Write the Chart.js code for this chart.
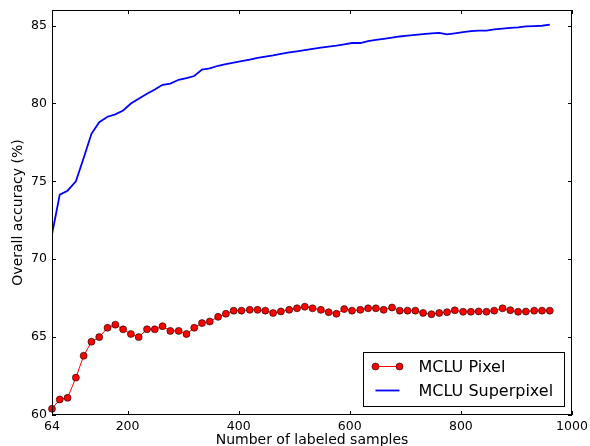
<!DOCTYPE html>
<html>
<head>
<meta charset="utf-8">
<script src="https://cdn.jsdelivr.net/npm/chart.js@4/dist/chart.umd.min.js"></script>
<style>
  html, body { margin: 0; padding: 0; background: #fff; }
  #wrap { width: 590px; height: 446px; }
</style>
</head>
<body>
<div id="wrap"><canvas id="chart" width="590" height="446"></canvas></div>
<script>
// number of labeled samples for each AL iteration
const samples = [64, 78, 92, 107, 121, 135, 149, 164, 178, 192, 206, 220, 235, 249, 263, 277,
  292, 306, 320, 334, 348, 363, 377, 391, 405, 420, 434, 448, 462, 476, 491, 505,
  519, 533, 548, 562, 576, 590, 604, 619, 633, 647, 661, 676, 690, 704, 718, 732,
  747, 761, 775, 789, 804, 818, 832, 846, 860, 875, 889, 903, 917, 932, 946, 960];

const pixelAcc = [60.4, 61.0, 61.1, 62.4, 63.8, 64.7, 65.0, 65.6, 65.8, 65.5, 65.2, 65.0, 65.5, 65.5, 65.7, 65.4,
  65.4, 65.2, 65.6, 65.9, 66.0, 66.3, 66.5, 66.7, 66.7, 66.75, 66.75, 66.7, 66.55, 66.65, 66.75, 66.85,
  66.95, 66.85, 66.75, 66.6, 66.5, 66.8, 66.7, 66.75, 66.85, 66.85, 66.75, 66.9, 66.7, 66.7, 66.7, 66.55,
  66.47, 66.55, 66.6, 66.72, 66.63, 66.63, 66.65, 66.63, 66.7, 66.85, 66.73, 66.63, 66.64, 66.7, 66.7, 66.7];

const superpixelAcc = [71.6, 74.15, 74.4, 75.0, 76.5, 78.05, 78.8, 79.15, 79.3, 79.55, 80.0, 80.3, 80.62, 80.9, 81.2, 81.28,
  81.52, 81.62, 81.76, 82.18, 82.25, 82.42, 82.52, 82.62, 82.72, 82.82, 82.92, 83.0, 83.08, 83.18, 83.28, 83.35,
  83.43, 83.5, 83.58, 83.65, 83.71, 83.8, 83.88, 83.88, 84.0, 84.08, 84.15, 84.23, 84.3, 84.35, 84.4, 84.45,
  84.5, 84.53, 84.43, 84.5, 84.58, 84.64, 84.68, 84.68, 84.75, 84.8, 84.85, 84.89, 84.95, 84.97, 84.99, 85.06];

const xTicks = [64, 200, 400, 600, 800, 1000];
const yTicks = [60, 65, 70, 75, 80, 85];
const seriesNames = ['MCLU Pixel', 'MCLU Superpixel'];

const FONT = "'DejaVu Sans', sans-serif";

// matplotlib style box with inward ticks on all four sides
const frameTicks = {
    id: 'frameTicks',
    afterDatasetsDraw(chart) {
        const { ctx, chartArea: a, scales: { x, y } } = chart;
        ctx.save();
        ctx.strokeStyle = '#000';
        ctx.lineWidth = 1;
        ctx.beginPath();
        xTicks.forEach(v => {
            const px = Math.round(x.getPixelForValue(v)) + 0.5;
            ctx.moveTo(px, a.bottom); ctx.lineTo(px, a.bottom - 4);
            ctx.moveTo(px, a.top); ctx.lineTo(px, a.top + 4);
        });
        yTicks.forEach(v => {
            const py = Math.round(y.getPixelForValue(v)) + 0.5;
            ctx.moveTo(a.left, py); ctx.lineTo(a.left + 4, py);
            ctx.moveTo(a.right, py); ctx.lineTo(a.right - 4, py);
        });
        ctx.stroke();
        ctx.strokeRect(Math.round(a.left) + 0.5, Math.round(a.top) + 0.5,
            Math.round(a.width) - 1, Math.round(a.height) - 1);
        ctx.restore();
    }
};

// legend inside the lower right corner
const boxLegend = {
    id: 'boxLegend',
    afterDraw(chart) {
        const { ctx, chartArea: a } = chart;
        const w = 201, h = 54;
        const bx = Math.round(a.right - 8 - w) + 0.5;
        const by = Math.round(a.bottom - 9 - h) + 0.5;
        ctx.save();
        ctx.fillStyle = '#fff';
        ctx.fillRect(bx, by, w, h);
        ctx.strokeStyle = '#000';
        ctx.lineWidth = 1;
        ctx.strokeRect(bx, by, w, h);
        ctx.font = '16px ' + FONT;
        ctx.textBaseline = 'middle';
        chart.data.datasets.forEach((ds, i) => {
            const ly = by + 14 + i * 24;
            const x0 = bx + 12, x1 = bx + 36;
            ctx.strokeStyle = ds.borderColor;
            ctx.lineWidth = ds.borderWidth;
            ctx.beginPath();
            ctx.moveTo(x0, ly); ctx.lineTo(x1, ly);
            ctx.stroke();
            if (ds.pointRadius > 0) {
                [x0, x1].forEach(px => {
                    ctx.beginPath();
                    ctx.arc(px, ly, ds.pointRadius, 0, Math.PI * 2);
                    ctx.fillStyle = ds.pointBackgroundColor;
                    ctx.fill();
                    ctx.lineWidth = ds.pointBorderWidth;
                    ctx.strokeStyle = ds.pointBorderColor;
                    ctx.stroke();
                });
            }
            ctx.fillStyle = '#000';
            ctx.fillText(ds.label, bx + 55, ly + 1);
        });
        ctx.restore();
    }
};

// keep the plot box where the layout padding puts it
function noEdgePadding(s) {
    s.paddingTop = 0;
    s.paddingBottom = 0;
    s.paddingLeft = 0;
    s.paddingRight = 0;
}

const ctx = document.getElementById('chart').getContext('2d');
new Chart(ctx, {
    type: 'line',
    data: {
        datasets: [{
            label: seriesNames[0],
            data: samples.map((s, i) => ({ x: s, y: pixelAcc[i] })),
            borderColor: '#ff0000',
            borderWidth: 1,
            pointRadius: 3.5,
            pointBackgroundColor: '#ff0000',
            pointBorderColor: '#000',
            pointBorderWidth: 0.6,
            tension: 0,
            clip: false
        }, {
            label: seriesNames[1],
            data: samples.map((s, i) => ({ x: s, y: superpixelAcc[i] })),
            borderColor: '#0000ff',
            borderWidth: 1.8,
            pointRadius: 0,
            tension: 0
        }]
    },
    options: {
        responsive: false,
        animation: false,
        layout: { padding: { top: 10, right: 18, left: 10, bottom: 0 } },
        plugins: { legend: { display: false }, tooltip: { enabled: false } },
        scales: {
            x: {
                type: 'linear',
                min: 64,
                max: 1000,
                afterBuildTicks: s => { s.ticks = xTicks.map(v => ({ value: v })); },
                afterFit: s => { s.height = 31; noEdgePadding(s); },
                grid: { display: false, drawTicks: false },
                border: { display: false },
                ticks: {
                    color: '#000', padding: 4, maxRotation: 0,
                    font: { family: FONT, size: 12.5 },
                    callback: v => String(v)
                },
                title: {
                    display: true,
                    text: 'Number of labeled samples',
                    color: '#000',
                    padding: { top: 0, bottom: -3 },
                    font: { family: FONT, size: 14 }
                }
            },
            y: {
                min: 60,
                max: 86,
                afterBuildTicks: s => { s.ticks = yTicks.map(v => ({ value: v })); },
                afterFit: s => { s.width = 42; noEdgePadding(s); },
                grid: { display: false, drawTicks: false },
                border: { display: false },
                ticks: { color: '#000', padding: 5, font: { family: FONT, size: 12.5 } },
                title: {
                    display: true,
                    text: 'Overall accuracy (%)',
                    color: '#000',
                    padding: 0,
                    font: { family: FONT, size: 14 }
                }
            }
        }
    },
    plugins: [frameTicks, boxLegend]
});
</script>
</body>
</html>
